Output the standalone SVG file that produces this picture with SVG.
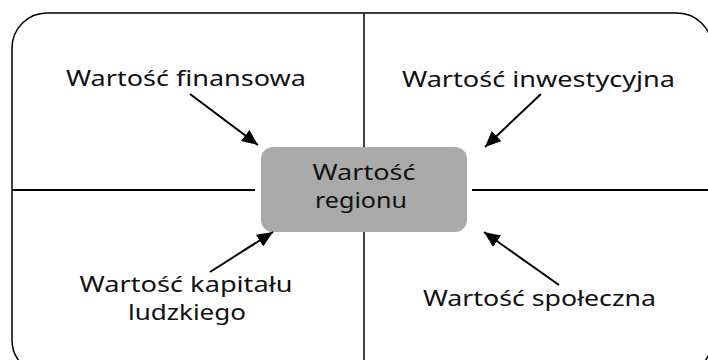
<svg xmlns="http://www.w3.org/2000/svg" width="708" height="360" viewBox="0 0 708 360">
<defs>
<marker id="ah" markerUnits="userSpaceOnUse" markerWidth="18" markerHeight="14" refX="16" refY="7" orient="auto">
<path d="M0,0 L16,7 L0,14 z" fill="#000"/>
</marker>
<style>
.t{font-family:"Noto Sans","Open Sans","DejaVu Sans",sans-serif;font-size:22px;fill:#111;}
.ln{stroke:#000;fill:none;}
.ar{stroke:#000;stroke-width:2;fill:none;marker-end:url(#ah);}
</style>
</defs>
<rect width="708" height="360" fill="#fff"/>
<g id="frame">
<rect class="ln" x="12" y="13" width="700" height="362" rx="35" ry="35" stroke-width="1.5"/>
<line class="ln" x1="364" y1="13" x2="364" y2="147" stroke-width="1.5"/>
<line class="ln" x1="364" y1="232" x2="364" y2="360" stroke-width="1.5"/>
<line class="ln" x1="12" y1="190" x2="255" y2="190" stroke-width="2"/>
<line class="ln" x1="472" y1="190" x2="708" y2="190" stroke-width="2"/>
</g>
<g id="center">
<rect x="261" y="147" width="206" height="85" rx="12" ry="12" fill="#aaaaaa"/>
<text class="t" x="364" y="180" text-anchor="middle" textLength="103" lengthAdjust="spacingAndGlyphs">Wartość</text>
<text class="t" x="361" y="208" text-anchor="middle" textLength="92" lengthAdjust="spacingAndGlyphs">regionu</text>
</g>
<g id="finansowa">
<text class="t" x="66" y="86" textLength="240" lengthAdjust="spacingAndGlyphs">Wartość finansowa</text>
</g>
<g id="inwestycyjna">
<text class="t" x="402" y="87" textLength="273" lengthAdjust="spacingAndGlyphs">Wartość inwestycyjna</text>
</g>
<g id="kapital">
<text class="t" x="186" y="292" text-anchor="middle" textLength="213" lengthAdjust="spacingAndGlyphs">Wartość kapitału</text>
<text class="t" x="187" y="320" text-anchor="middle" textLength="118" lengthAdjust="spacingAndGlyphs">ludzkiego</text>
</g>
<g id="spoleczna">
<text class="t" x="423" y="306" textLength="233" lengthAdjust="spacingAndGlyphs">Wartość społeczna</text>
</g>
<g id="connectors">
<line class="ar" x1="190" y1="94" x2="258" y2="145"/>
<line class="ar" x1="541" y1="94" x2="485" y2="147"/>
<line class="ar" x1="210" y1="272" x2="273" y2="232"/>
<line class="ar" x1="559" y1="285" x2="484" y2="232"/>
</g>
</svg>
